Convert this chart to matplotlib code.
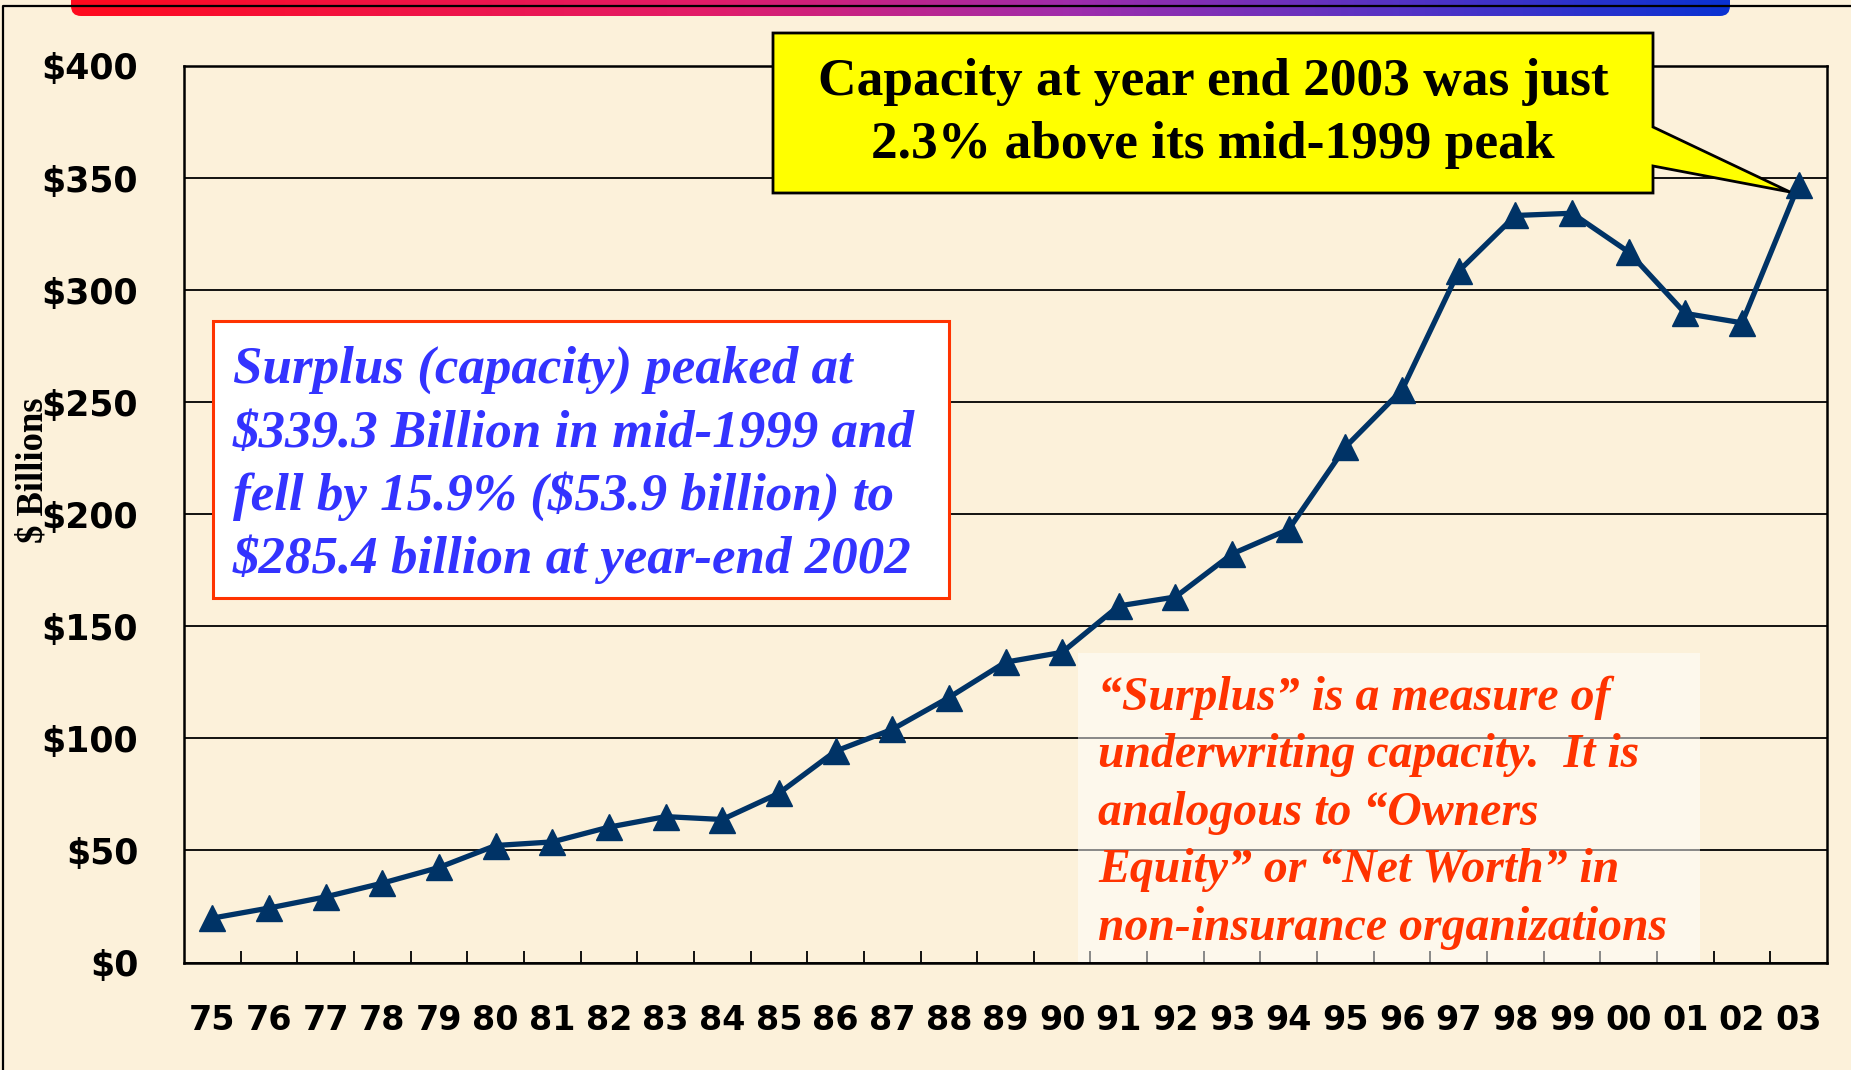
import matplotlib
matplotlib.use('Agg')
import matplotlib.pyplot as plt
from matplotlib.patches import Polygon, Rectangle, FancyBboxPatch
from matplotlib.lines import Line2D
from matplotlib.colors import LinearSegmentedColormap
import numpy as np

# ---------------- data ----------------
years = ['75', '76', '77', '78', '79', '80', '81', '82', '83', '84', '85', '86', '87', '88',
         '89', '90', '91', '92', '93', '94', '95', '96', '97', '98', '99', '00', '01', '02', '03']
surplus = [19.8, 24.3, 29.3, 35.4, 42.4, 52.2, 53.8, 60.4, 65.1, 63.8, 75.5, 94.3, 104.0, 118.2,
           134.0, 138.4, 159.1, 163.1, 182.3, 193.3, 230.0, 255.5, 308.5, 333.3, 334.3, 317.0,
           289.6, 285.4, 347.0]
y_ticks = [0, 50, 100, 150, 200, 250, 300, 350, 400]
y_tick_labels = ['$0', '$50', '$100', '$150', '$200', '$250', '$300', '$350', '$400']
y_label = '$ Billions'
callout_lines = ['Capacity at year end 2003 was just', '2.3% above its mid-1999 peak']
blue_lines = ['Surplus (capacity) peaked at', '$339.3 Billion in mid-1999 and',
              'fell by 15.9% ($53.9 billion) to', '$285.4 billion at year-end 2002']
red_lines = ['\u201cSurplus\u201d is a measure of', 'underwriting capacity.  It is',
             'analogous to \u201cOwners', 'Equity\u201d or \u201cNet Worth\u201d in',
             'non-insurance organizations']

# ---------------- figure ----------------
W, H = 1851, 1070
BG = '#FCF1DA'
fig = plt.figure(figsize=(W / 100, H / 100), dpi=100)
fig.patch.set_facecolor(BG)


def fx(x):
    return x / W


def fy(y):
    return 1 - y / H


# top gradient bar
bar_l, bar_r, bar_b = 71, 1730, 16
bax = fig.add_axes([fx(bar_l), fy(bar_b), fx(bar_r) - fx(bar_l), bar_b / H])
bax.set_axis_off()
cmap = LinearSegmentedColormap.from_list('bar', [(0.0, '#FF0A1E'), (0.38, '#E21C68'),
                                                 (0.6, '#A02CAA'), (0.8, '#5533C4'),
                                                 (1.0, '#0A32D2')])
grad = np.linspace(0, 1, 512)[None, :]
im = bax.imshow(grad, cmap=cmap, aspect='auto', extent=[0, bar_r - bar_l, 0, bar_b])
bax.set_xlim(0, bar_r - bar_l)
bax.set_ylim(0, bar_b)
clip = FancyBboxPatch((0, 0), bar_r - bar_l, 40, boxstyle='round,pad=0,rounding_size=10',
                      transform=bax.transData, facecolor='none', edgecolor='none')
bax.add_patch(clip)
im.set_clip_path(clip)

# outer frame lines
fig.add_artist(Line2D([fx(3), fx(3), fx(W)], [fy(H), fy(6), fy(6)], color='black', lw=1.6,
                      transform=fig.transFigure, zorder=10))

# main axes
x0, x1, ytop, ybot = 184, 1827, 66, 962.5
ax = fig.add_axes([fx(x0), fy(ybot), fx(x1) - fx(x0), (ybot - ytop) / H])
ax.set_facecolor('none')
xs = np.arange(len(years))
ax.plot(xs, surplus, color='#003366', lw=3.8, marker='^', ms=19, zorder=5, clip_on=False)
ax.set_xlim(-0.5, len(years) - 0.5)
ax.set_ylim(0, 400)
ax.set_yticks(y_ticks)
ax.set_yticklabels(y_tick_labels)
ax.set_xticks(xs)
ax.set_xticklabels(years)
ax.set_xticks(np.arange(0.5, len(years) - 1, 1), minor=True)
ax.yaxis.grid(True, color='black', lw=1.3)
ax.set_axisbelow(True)
ax.tick_params(axis='y', length=0, pad=33)
ax.tick_params(axis='x', which='major', length=0, pad=30)
ax.tick_params(axis='x', which='minor', direction='in', length=8.5, width=1.3, color='black')
for lbl in ax.get_yticklabels():
    lbl.set_fontfamily('DejaVu Sans')
    lbl.set_fontweight('bold')
    lbl.set_fontsize(25)
for lbl in ax.get_xticklabels():
    lbl.set_fontfamily('DejaVu Sans')
    lbl.set_fontweight('bold')
    lbl.set_fontsize(24)
for sp in ax.spines.values():
    sp.set_linewidth(1.8)
    sp.set_color('black')

# y label
ylab = fig.text(fx(33), fy(470), y_label, rotation=90, ha='center', va='center',
                family='Liberation Serif', fontweight='bold', fontsize=20, color='black')

# red note background
ax.add_patch(Rectangle((fx(1078), fy(962)), fx(1700) - fx(1078), (962 - 653) / H,
                       transform=fig.transFigure, facecolor='#FFFFFF', alpha=0.5,
                       edgecolor='none', zorder=3, clip_on=False))

# blue box
ax.add_patch(Rectangle((fx(213), fy(598)), fx(949) - fx(213), (598 - 321) / H,
                       transform=fig.transFigure, facecolor='white', edgecolor='#FF3300',
                       lw=2.2, zorder=4, clip_on=False))

# yellow callout
bl, br, bt, bb = 773, 1653, 33, 193
poly = [(bl, bt), (br, bt), (br, 127), (1790, 192), (br, 166), (br, bb), (bl, bb)]
ax.add_patch(Polygon([(fx(a), fy(b)) for a, b in poly], closed=True,
                     transform=fig.transFigure, facecolor='#FFFF00', edgecolor='black',
                     lw=2.0, zorder=6, clip_on=False))


def add_lines(lines, x, baselines, ha, color, style, target_w, size0=30):
    ts = [ax.text(fx(x), fy(b), s, transform=fig.transFigure, ha=ha, va='baseline',
                  fontsize=size0, color=color, fontstyle=style, fontweight='bold',
                  family='Liberation Serif', zorder=8) for s, b in zip(lines, baselines)]
    return ts, target_w


groups = [
    add_lines(callout_lines, (bl + br) / 2, [95, 158], 'center', 'black', 'normal', 789),
    add_lines(blue_lines, 233, [383, 447, 510, 573], 'left', '#3333FF', 'italic', 683),
    add_lines(red_lines, 1098, [710, 767, 825, 882, 940], 'left', '#FF3300', 'italic', 570),
]

fig.canvas.draw()
r = fig.canvas.get_renderer()
for ts, tw in groups:
    w = max(t.get_window_extent(r).width for t in ts)
    for t in ts:
        t.set_fontsize(t.get_fontsize() * tw / w)
h = ylab.get_window_extent(r).height
ylab.set_fontsize(ylab.get_fontsize() * 145 / h)

fig.savefig('out.png', dpi=100, facecolor=BG)
